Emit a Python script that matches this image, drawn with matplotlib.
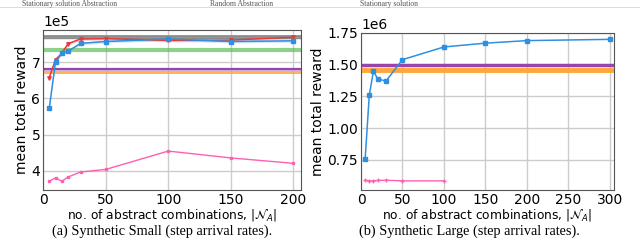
import numpy as np
import matplotlib.pyplot as plt
from matplotlib.lines import Line2D

# (a) Synthetic Small
small_x = [5, 10, 15, 20, 30, 50, 100, 150, 200]
small_red = [6.58e5, 7.08e5, 7.25e5, 7.52e5, 7.65e5, 7.66e5, 7.61e5, 7.62e5, 7.70e5]
small_blue = [5.73e5, 7.02e5, 7.25e5, 7.31e5, 7.53e5, 7.58e5, 7.65e5, 7.58e5, 7.60e5]
small_pink = [3.70e5, 3.80e5, 3.70e5, 3.82e5, 3.96e5, 4.03e5, 4.54e5, 4.35e5, 4.20e5]
small_hlines = [7.74e5, 7.68e5, 7.35e5, 6.81e5, 6.76e5, 6.70e5]

# (b) Synthetic Large
large_x = [5, 10, 15, 20, 30, 50, 100, 150, 200, 300]
large_blue = [0.76e6, 1.26e6, 1.45e6, 1.39e6, 1.37e6, 1.54e6, 1.64e6, 1.67e6, 1.69e6, 1.70e6]
large_pink_x = [5, 10, 15, 20, 30, 50, 100]
large_pink = [0.590e6, 0.584e6, 0.585e6, 0.588e6, 0.590e6, 0.585e6, 0.585e6]
large_hlines = [1.50e6, 1.455e6]

legend_texts = ['Stationary solution Abstraction', 'Random Abstraction', 'Stationary solution']

RED = '#e8393b'
BLUE = '#2f8fe0'
PINK = '#ff5fb0'
GRAY = '#8c8c8c'
GREEN = '#5cbf5a'
PURPLE = '#9944a8'
ORANGE = '#ffa53a'

plt.rcParams['font.family'] = 'DejaVu Sans'
fig = plt.figure(figsize=(6.4, 2.46), dpi=100)

ax1 = fig.add_axes([43 / 640, 1 - 190 / 246, 258 / 640, 160 / 246])
ax2 = fig.add_axes([361 / 640, 1 - 190 / 246, 253 / 640, 157 / 246])

for ax in (ax1, ax2):
    ax.grid(True, color='#cccccc', linewidth=1.0)
    ax.set_axisbelow(True)
    for s in ax.spines.values():
        s.set_color('#555555')
        s.set_linewidth(0.8)
    ax.tick_params(labelsize=10, length=0, pad=2)
    ax.set_ylabel('mean total reward', fontsize=10, labelpad=2)
    ax.set_xlabel(r'no. of abstract combinations, $|\mathcal{N}_A|$', fontsize=8.8, labelpad=0)

# left panel
ax1.axhline(small_hlines[0], color=GRAY, lw=2.0)
ax1.axhline(small_hlines[1], color=GRAY, lw=1.0)
ax1.axhline(small_hlines[2], color=GREEN, lw=3.0, alpha=0.7)
ax1.axhline(small_hlines[3], color=PURPLE, lw=1.6)
ax1.axhline(small_hlines[4], color='#c9a0d8', lw=1.2)
ax1.axhline(small_hlines[5], color=ORANGE, lw=1.2)
ax1.fill_between(small_x, np.array(small_red) - 4e3, np.array(small_red) + 4e3, color=RED, alpha=0.2, lw=0)
ax1.fill_between(small_x, np.array(small_blue) - 4e3, np.array(small_blue) + 4e3, color=BLUE, alpha=0.2, lw=0)
ax1.plot(small_x, small_red, '-', color=RED, lw=1.1, marker='v', ms=2.5)
ax1.plot(small_x, small_blue, '-', color=BLUE, lw=1.1, marker='s', ms=2.2)
ax1.plot(small_x, small_pink, '-', color=PINK, lw=1.0, marker='s', ms=1.8)
ax1.set_xlim(0, 206)
ax1.set_ylim(3.46e5, 7.9e5)
ax1.set_xticks([0, 50, 100, 150, 200])
ax1.set_yticks([4e5, 5e5, 6e5, 7e5])
ax1.ticklabel_format(axis='y', style='sci', scilimits=(0, 0))
ax1.yaxis.get_offset_text().set_fontsize(10)

# right panel
ax2.axhline(large_hlines[0], color=PURPLE, lw=2.5)
ax2.axhline(large_hlines[1], color=ORANGE, lw=3.5)
ax2.plot(large_x, large_blue, '-', color=BLUE, lw=1.1, marker='s', ms=2.2)
ax2.plot(large_pink_x, large_pink, '-', color=PINK, lw=1.0, marker='+', ms=3)
ax2.set_xlim(0, 305)
ax2.set_ylim(0.513e6, 1.75e6)
ax2.set_xticks([0, 50, 100, 150, 200, 250, 300])
ax2.set_yticks([0.75e6, 1.0e6, 1.25e6, 1.5e6, 1.75e6])
ax2.ticklabel_format(axis='y', style='sci', scilimits=(0, 0))
ax2.yaxis.get_offset_text().set_fontsize(10)

# legend strip at the top (cut off in the original)
fig.add_artist(Line2D([0, 1], [1 - 7 / 246, 1 - 7 / 246], color='#dddddd', lw=0.8))
for xpos, txt in zip([22, 210, 360], legend_texts):
    fig.text(xpos / 640, 0.998, txt, fontsize=5.5, family='Liberation Serif',
             ha='left', va='top', color='#555555')

# captions
fig.text(162 / 640, 1 - 231 / 246, '(a) Synthetic Small (step arrival rates).',
         fontsize=10.3, family='Liberation Serif', ha='center', va='center')
fig.text(469 / 640, 1 - 231 / 246, '(b) Synthetic Large (step arrival rates).',
         fontsize=10.3, family='Liberation Serif', ha='center', va='center')

fig.savefig('out.png', dpi=100)
